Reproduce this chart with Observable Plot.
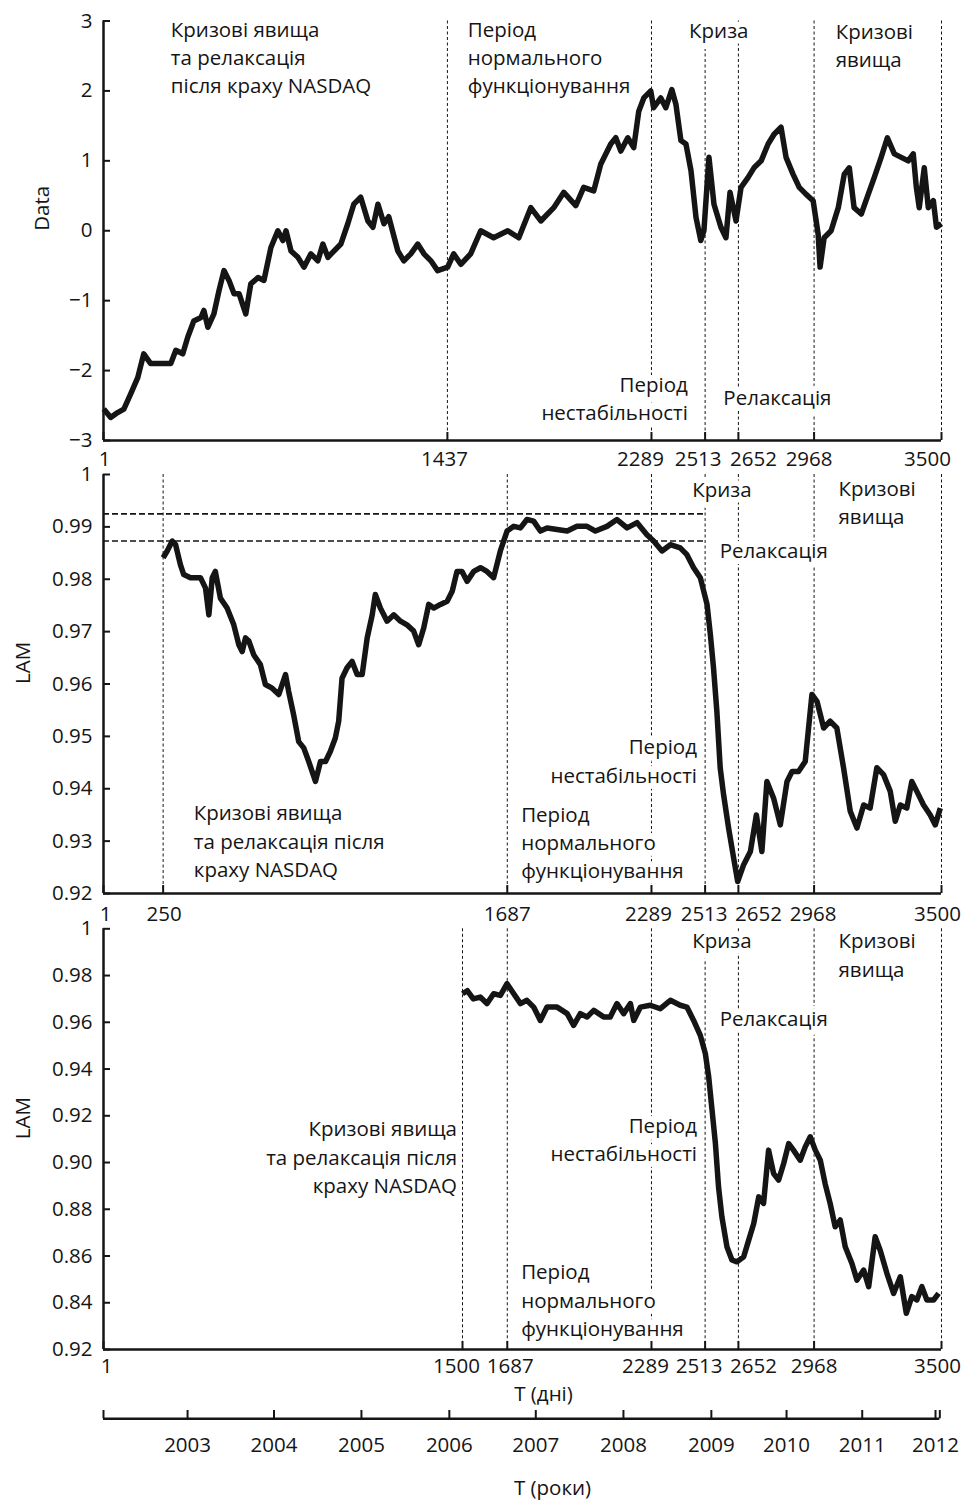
<!DOCTYPE html>
<html><head><meta charset="utf-8">
<script src="https://cdn.jsdelivr.net/npm/d3@7"></script>
<script src="https://cdn.jsdelivr.net/npm/@observablehq/plot@0.6"></script>
<style>
body{margin:0;background:#fff;}
#wrap{position:relative;width:963px;height:1501px;background:#fff;}
#wrap svg{position:absolute;left:0;top:0;}
</style></head><body><div id="wrap"></div>
<script>
// ---------- DATA ----------
const dataDays = [2,31,60,86,115,144,169,198,240,282,303,332,353,378,408,420,437,462,483,504,525,546,567,595,616,646,671,700,729,750,763,784,813,838,867,896,917,938,963,992,1021,1046,1075,1105,1126,1147,1172,1192,1230,1255,1284,1313,1339,1368,1396,1438,1463,1493,1534,1576,1630,1689,1735,1785,1827,1881,1923,1973,2006,2048,2077,2119,2140,2161,2190,2215,2236,2257,2286,2298,2328,2349,2374,2391,2412,2433,2454,2475,2495,2508,2529,2550,2579,2600,2617,2642,2663,2692,2717,2747,2776,2801,2830,2851,2880,2906,2935,2964,2985,2993,3010,3039,3069,3094,3115,3135,3165,3194,3219,3248,3274,3303,3332,3361,3382,3395,3407,3428,3445,3466,3479,3500];
const dataValues = [-2.55,-2.67,-2.6,-2.55,-2.33,-2.1,-1.76,-1.9,-1.9,-1.9,-1.71,-1.76,-1.52,-1.29,-1.24,-1.14,-1.38,-1.19,-0.86,-0.57,-0.71,-0.9,-0.9,-1.19,-0.76,-0.67,-0.71,-0.24,0,-0.14,0,-0.29,-0.38,-0.52,-0.33,-0.43,-0.19,-0.38,-0.29,-0.19,0.1,0.38,0.48,0.14,0.05,0.38,0.1,0.2,-0.29,-0.43,-0.33,-0.19,-0.33,-0.43,-0.57,-0.52,-0.33,-0.48,-0.33,0.0,-0.1,0.0,-0.1,0.33,0.14,0.33,0.55,0.36,0.62,0.57,0.95,1.24,1.33,1.14,1.33,1.19,1.71,1.9,2.0,1.76,1.9,1.76,2.02,1.81,1.29,1.24,0.86,0.19,-0.14,0.0,1.05,0.38,0.05,-0.1,0.55,0.14,0.62,0.76,0.9,1.0,1.24,1.38,1.48,1.05,0.81,0.62,0.52,0.43,-0.05,-0.52,-0.1,0,0.33,0.81,0.9,0.33,0.24,0.52,0.76,1.05,1.33,1.1,1.05,1.0,1.1,0.62,0.33,0.9,0.33,0.43,0.05,0.1];

const lamDays = [250,267,288,302,322,336,364,406,427,441,455,468,489,517,545,566,580,594,608,628,656,677,705,733,761,774,795,816,837,858,886,907,928,948,969,983,997,1018,1039,1060,1081,1102,1123,1136,1157,1185,1213,1241,1268,1296,1317,1338,1359,1380,1408,1436,1457,1477,1498,1519,1547,1575,1602,1630,1658,1686,1714,1742,1769,1797,1825,1853,1895,1937,1978,2020,2055,2103,2145,2187,2229,2270,2298,2333,2368,2409,2437,2465,2493,2521,2535,2548,2562,2576,2590,2611,2632,2649,2674,2702,2727,2750,2771,2799,2827,2855,2876,2903,2931,2959,2980,3008,3035,3063,3091,3119,3147,3175,3202,3230,3258,3286,3307,3328,3355,3376,3397,3425,3453,3474,3495];
const lamValues = [0.9841,0.9854,0.9873,0.9866,0.9828,0.9809,0.9803,0.9803,0.9783,0.9732,0.9803,0.9815,0.9764,0.9745,0.9713,0.9675,0.9662,0.9688,0.9682,0.9656,0.9637,0.9599,0.9592,0.9580,0.9618,0.9586,0.9541,0.9490,0.9478,0.9452,0.9414,0.9452,0.9452,0.9471,0.9497,0.9529,0.9611,0.9631,0.9643,0.9618,0.9618,0.9688,0.9732,0.9771,0.9745,0.9720,0.9732,0.9720,0.9713,0.9701,0.9675,0.9707,0.9752,0.9745,0.9752,0.9758,0.9777,0.9815,0.9815,0.9796,0.9815,0.9822,0.9815,0.9803,0.9854,0.9892,0.9901,0.9898,0.9914,0.9911,0.9892,0.9898,0.9895,0.9892,0.9901,0.9901,0.9892,0.9901,0.9914,0.9898,0.9908,0.9885,0.9873,0.9854,0.9866,0.9860,0.9847,0.9822,0.9803,0.9752,0.9694,0.9631,0.9548,0.9440,0.9389,0.9325,0.9268,0.9223,0.9255,0.9280,0.9350,0.9280,0.9414,0.9382,0.9331,0.9414,0.9433,0.9433,0.9452,0.9580,0.9567,0.9516,0.9529,0.9516,0.9440,0.9357,0.9325,0.9369,0.9363,0.9440,0.9427,0.9395,0.9338,0.9369,0.9363,0.9414,0.9395,0.9369,0.9350,0.9331,0.9363];

const lam2Days = [1500,1520,1545,1574,1602,1630,1658,1686,1714,1742,1769,1797,1825,1853,1895,1937,1964,1992,2020,2048,2089,2117,2145,2173,2201,2215,2243,2284,2326,2368,2409,2437,2465,2493,2514,2528,2542,2556,2569,2583,2604,2625,2646,2674,2695,2716,2737,2757,2778,2799,2820,2841,2862,2882,2910,2931,2952,2973,2994,3014,3035,3056,3077,3098,3126,3147,3175,3196,3223,3244,3272,3300,3328,3353,3376,3397,3418,3439,3467,3488];
const lam2Values = [0.9722,0.9735,0.9700,0.9708,0.9680,0.9722,0.9715,0.9765,0.9722,0.9680,0.9694,0.9665,0.9608,0.9665,0.9665,0.9637,0.9587,0.9637,0.9623,0.9651,0.9623,0.9623,0.9680,0.9637,0.9680,0.9608,0.9665,0.9673,0.9658,0.9694,0.9673,0.9665,0.9608,0.9544,0.9466,0.9366,0.9224,0.9081,0.8896,0.8768,0.8640,0.8583,0.8575,0.8597,0.8668,0.8739,0.8853,0.8825,0.9053,0.8953,0.8925,0.8996,0.9081,0.9053,0.9010,0.9067,0.9110,0.9053,0.9010,0.8910,0.8825,0.8725,0.8754,0.8640,0.8568,0.8497,0.8540,0.8469,0.8682,0.8625,0.8526,0.8440,0.8511,0.8355,0.8426,0.8412,0.8469,0.8412,0.8412,0.8440];

const dataYTicks = [-3,-2,-1,0,1,2,3];
const dataYLabels = ["\u22123","\u22122","\u22121","0","1","2","3"];
const lamYTicks = [0.92,0.93,0.94,0.95,0.96,0.97,0.98,0.99,1];
const lamYLabels = ["0.92","0.93","0.94","0.95","0.96","0.97","0.98","0.99","1"];
const lam2YTicks = [0.82,0.84,0.86,0.88,0.90,0.92,0.94,0.96,0.98,1];
const lam2YLabels = ["0.92","0.84","0.86","0.88","0.90","0.92","0.94","0.96","0.98","1"];

const dataXTicks = [1,1437,2289,2513,2652,2968,3500];
const lamXTicks = [1,250,1687,2289,2513,2652,2968,3500];
const lam2XTicks = [1,1500,1687,2289,2513,2652,2968,3500];
const dataMarkers = [1437,2289,2513,2652,2968,3500];
const lamMarkers = [250,1687,2289,2513,2652,2968,3500];
const lam2Markers = [1500,1687,2289,2513,2652,2968,3500];
const lamLevels = [0.9925,0.9873];
const lamLevelsUntil = 2513;

const yearDays = [352,713,1078,1445,1806,2172,2539,2853,3169,3475];
const yearLabels = ["2003","2004","2005","2006","2007","2008","2009","2010","2011","2012"];
const yearAxisEnds = [1,3493];

const labelCrisisNasdaq = "Кризові явища\nта релаксація\nпісля краху NASDAQ";
const labelCrisisNasdaq2 = "Кризові явища\nта релаксація після\nкраху NASDAQ";
const labelNormal = "Період\nнормального\nфункціонування";
const labelCrisis = "Криза";
const labelCrisisPhen = "Кризові\nявища";
const labelInstab = "Період\nнестабільності";
const labelRelax = "Релаксація";

// ---------- RENDER ----------
const W = 963, H = 1501, LEFT = 103, RIGHT = 22;
const FONT = "'Open Sans','Noto Sans',sans-serif";
const INK = "#151515";
const FS = 20.5;
const wrap = document.getElementById("wrap");

function note(label, day, value, anchor) {
  return Plot.text([{day, value, label}], {
    x: "day", y: "value", text: "label", textAnchor: anchor, lineAnchor: "middle",
    lineHeight: 1.38, fontSize: FS, fill: INK, stroke: "white", strokeWidth: 12, paintOrder: "stroke"
  });
}

function panel(cfg) {
  const plotW = W - LEFT - RIGHT, plotH = cfg.bottom - cfg.top;
  const series = cfg.days.map((d, i) => ({d, v: cfg.values[i]}));
  const marks = [];
  marks.push(Plot.ruleX(cfg.markers, {x: d => d, stroke: INK, strokeWidth: 1, strokeDasharray: "3,2.5"}));
  if (cfg.levels) marks.push(Plot.ruleY(cfg.levels, {y: d => d, x1: 1, x2: cfg.levelsUntil, stroke: INK, strokeWidth: 1.7, strokeDasharray: "6,3"}));
  marks.push(...cfg.notes);
  marks.push(Plot.line(series, {x: "d", y: "v", stroke: INK, strokeWidth: 5.5, strokeLinejoin: "round", strokeLinecap: "butt"}));
  marks.push(Plot.ruleX([1], {stroke: INK, strokeWidth: 2.5}));
  marks.push(Plot.ruleY([cfg.yDomain[0]], {stroke: INK, strokeWidth: 2.5}));
  marks.push(Plot.tickY(cfg.yTicks, {y: d => d, insetRight: plotW - 7, stroke: INK, strokeWidth: 2}));
  marks.push(Plot.tickX(cfg.xTicks, {x: d => d, insetTop: plotH - 8, stroke: INK, strokeWidth: 2}));
  marks.push(Plot.text(cfg.yTicks, {y: d => d, text: (d, i) => cfg.yLabels[i], frameAnchor: "left", textAnchor: "end", dx: -11, fontSize: FS, fill: INK}));
  cfg.xTicks.forEach(t => marks.push(Plot.text([t], {x: d => d, text: d => String(d), frameAnchor: "bottom", lineAnchor: "top", dy: cfg.labelDy, dx: cfg.shift[t] || 0, fontSize: FS, fill: INK})));
  marks.push(Plot.text([cfg.yTitle], {frameAnchor: "left", rotate: -90, dx: cfg.titleDx, fontSize: FS, fill: INK}));
  if (cfg.extra) marks.push(...cfg.extra);
  const svg = Plot.plot({
    width: W, height: H, marginLeft: LEFT, marginRight: RIGHT,
    marginTop: cfg.top, marginBottom: H - cfg.bottom,
    x: {domain: [1, 3500], axis: null},
    y: {domain: cfg.yDomain, axis: null},
    style: {background: "transparent", overflow: "visible", fontFamily: FONT},
    marks
  });
  wrap.appendChild(svg);
}

panel({
  top: 20.5, bottom: 440, yDomain: [-3, 3], days: dataDays, values: dataValues,
  yTicks: dataYTicks, yLabels: dataYLabels, xTicks: dataXTicks, markers: dataMarkers,
  shift: {1: 1, 1437: -3, 2289: -11, 2513: -7, 2652: 15, 2968: -5, 3500: -14}, labelDy: 11,
  yTitle: "Data", titleDx: -61,
  notes: [
    note(labelCrisisNasdaq, 282, 2.5, "start"),
    note(labelNormal, 1522, 2.5, "start"),
    note(labelCrisis, 2570, 2.88, "middle"),
    note(labelCrisisPhen, 3058, 2.67, "start"),
    note(labelInstab, 2441, -2.38, "end"),
    note(labelRelax, 2589, -2.36, "start")
  ]
});

panel({
  top: 474, bottom: 893, yDomain: [0.92, 1], days: lamDays, values: lamValues,
  yTicks: lamYTicks, yLabels: lamYLabels, xTicks: lamXTicks, markers: lamMarkers,
  levels: lamLevels, levelsUntil: lamLevelsUntil,
  shift: {1: 2, 250: 1, 1687: 0, 2289: -3, 2513: -1, 2652: 20, 2968: -1, 3500: -4}, labelDy: 13,
  yTitle: "LAM", titleDx: -80,
  notes: [
    note(labelCrisisNasdaq2, 378, 0.9303, "start"),
    note(labelCrisis, 2583, 0.9975, "middle"),
    note(labelCrisisPhen, 3070, 0.995, "start"),
    note(labelRelax, 2574, 0.9858, "start"),
    note(labelInstab, 2479, 0.9456, "end"),
    note(labelNormal, 1745, 0.930, "start")
  ]
});

panel({
  top: 928.3, bottom: 1349, yDomain: [0.82, 1], days: lam2Days, values: lam2Values,
  yTicks: lam2YTicks, yLabels: lam2YLabels, xTicks: lam2XTicks, markers: lam2Markers,
  shift: {1: 3, 1500: -6, 1687: 3, 2289: -6, 2513: -6, 2652: 15, 2968: 0, 3500: -4}, labelDy: 9,
  yTitle: "LAM", titleDx: -80,
  notes: [
    note(labelCrisisNasdaq2, 1477, 0.903, "end"),
    note(labelCrisis, 2583, 0.9956, "middle"),
    note(labelCrisisPhen, 3070, 0.9895, "start"),
    note(labelRelax, 2574, 0.9621, "start"),
    note(labelInstab, 2479, 0.9105, "end"),
    note(labelNormal, 1745, 0.8418, "start")
  ],
  extra: [Plot.text(["T (дні)"], {frameAnchor: "bottom", lineAnchor: "top", dy: 37, dx: 21, fontSize: FS, fill: INK})]
});

// years axis
wrap.appendChild(Plot.plot({
  width: W, height: H, marginLeft: LEFT, marginRight: RIGHT,
  marginTop: 1408, marginBottom: H - 1418.3,
  x: {domain: [1, 3500], axis: null},
  y: {domain: [0, 1], axis: null},
  style: {background: "transparent", overflow: "visible", fontFamily: FONT},
  marks: [
    Plot.ruleY([0], {x1: yearAxisEnds[0], x2: yearAxisEnds[1], stroke: INK, strokeWidth: 2.5}),
    Plot.tickX([...yearAxisEnds, ...yearDays], {x: d => d, insetTop: 2, stroke: INK, strokeWidth: 2}),
    Plot.text(yearDays, {x: d => d, text: (d, i) => yearLabels[i], frameAnchor: "bottom", lineAnchor: "top", dy: 19, fontSize: FS, fill: INK}),
    Plot.text(["T (роки)"], {frameAnchor: "bottom", lineAnchor: "top", dy: 62, dx: 30, fontSize: FS, fill: INK})
  ]
}));
</script></body></html>
